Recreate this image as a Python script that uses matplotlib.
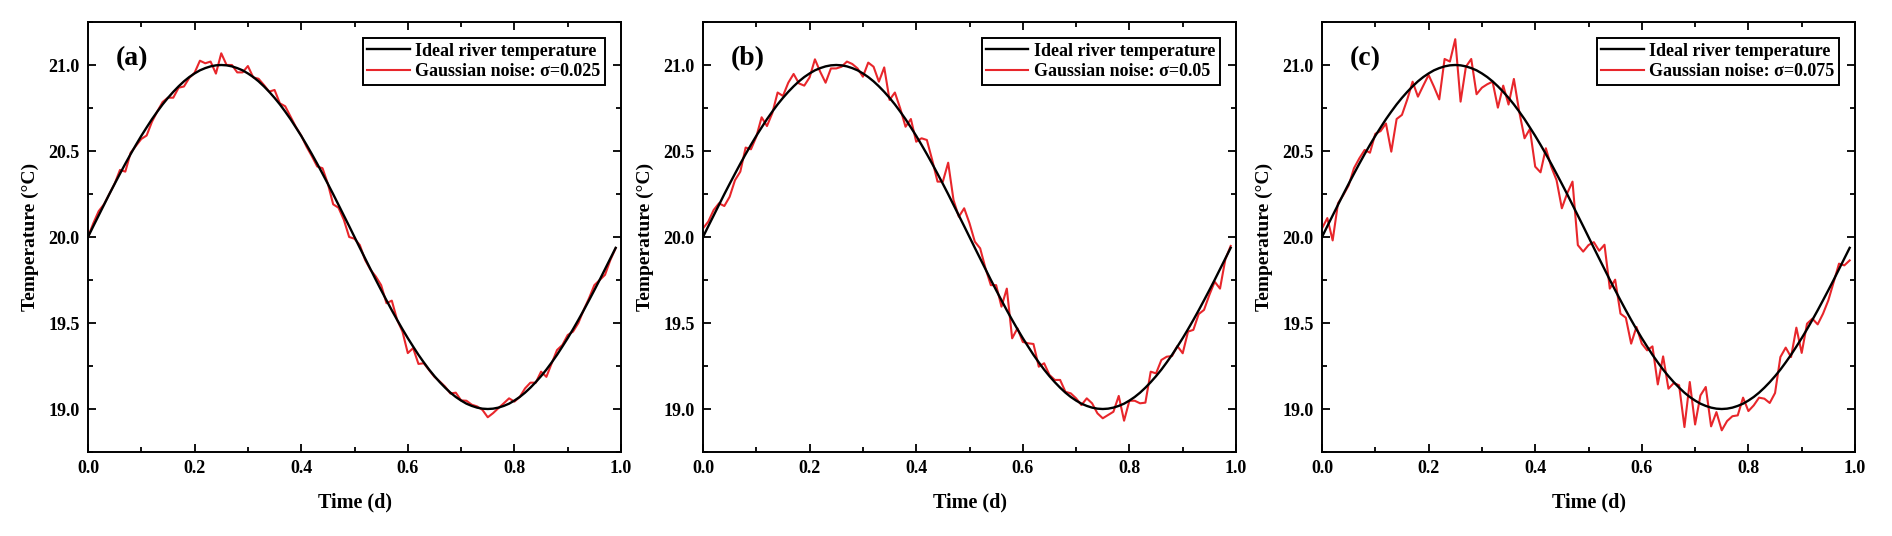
import numpy as np
import matplotlib
matplotlib.use("Agg")
import matplotlib.pyplot as plt
from matplotlib.ticker import MultipleLocator

# time axis (d)
time_d = [round(k * 0.01, 2) for k in range(100)]

# ideal river temperature (°C)
ideal = [20.000, 20.063, 20.125, 20.187, 20.249, 20.309, 20.368, 20.426, 20.482, 20.536,
         20.588, 20.637, 20.685, 20.729, 20.771, 20.809, 20.844, 20.876, 20.905, 20.930,
         20.951, 20.969, 20.982, 20.992, 20.998, 21.000, 20.998, 20.992, 20.982, 20.969,
         20.951, 20.930, 20.905, 20.876, 20.844, 20.809, 20.771, 20.729, 20.685, 20.637,
         20.588, 20.536, 20.482, 20.426, 20.368, 20.309, 20.249, 20.187, 20.125, 20.063,
         20.000, 19.937, 19.875, 19.813, 19.751, 19.691, 19.632, 19.574, 19.518, 19.464,
         19.412, 19.363, 19.315, 19.271, 19.229, 19.191, 19.156, 19.124, 19.095, 19.070,
         19.049, 19.031, 19.018, 19.008, 19.002, 19.000, 19.002, 19.008, 19.018, 19.031,
         19.049, 19.070, 19.095, 19.124, 19.156, 19.191, 19.229, 19.271, 19.315, 19.363,
         19.412, 19.464, 19.518, 19.574, 19.632, 19.691, 19.751, 19.813, 19.875, 19.937]

# noisy series (°C)
noisy_a = [20.000, 20.080, 20.150, 20.190, 20.250, 20.310, 20.390, 20.380, 20.490, 20.530,
           20.570, 20.590, 20.670, 20.730, 20.785, 20.810, 20.810, 20.868, 20.875, 20.925,
           20.955, 21.025, 21.010, 21.020, 20.950, 21.068, 21.000, 21.000, 20.957, 20.957,
           20.994, 20.928, 20.920, 20.884, 20.845, 20.855, 20.777, 20.760, 20.700, 20.640,
           20.590, 20.525, 20.470, 20.410, 20.400, 20.310, 20.190, 20.170, 20.100, 20.000,
           19.990, 19.953, 19.866, 19.810, 19.770, 19.720, 19.615, 19.630, 19.518, 19.450,
           19.325, 19.354, 19.262, 19.266, 19.226, 19.187, 19.160, 19.130, 19.090, 19.095,
           19.050, 19.048, 19.025, 19.015, 18.995, 18.952, 18.976, 19.005, 19.033, 19.062,
           19.043, 19.070, 19.120, 19.153, 19.153, 19.217, 19.187, 19.266, 19.343, 19.372,
           19.430, 19.450, 19.500, 19.576, 19.644, 19.720, 19.750, 19.780, 19.866, 19.935]

noisy_b = [20.050, 20.090, 20.157, 20.196, 20.180, 20.234, 20.330, 20.380, 20.520, 20.510,
           20.583, 20.696, 20.645, 20.720, 20.840, 20.820, 20.897, 20.948, 20.893, 20.880,
           20.928, 21.033, 20.960, 20.897, 20.980, 20.980, 20.990, 21.020, 21.006, 20.980,
           20.932, 21.014, 20.990, 20.903, 20.986, 20.797, 20.840, 20.748, 20.641, 20.686,
           20.554, 20.574, 20.564, 20.448, 20.322, 20.322, 20.432, 20.215, 20.118, 20.167,
           20.080, 19.973, 19.934, 19.818, 19.720, 19.720, 19.595, 19.700, 19.411, 19.469,
           19.390, 19.382, 19.378, 19.246, 19.266, 19.198, 19.169, 19.169, 19.100, 19.091,
           19.062, 19.023, 19.062, 19.033, 18.975, 18.946, 18.965, 18.984, 19.076, 18.932,
           19.048, 19.048, 19.033, 19.037, 19.217, 19.207, 19.285, 19.304, 19.308, 19.366,
           19.324, 19.450, 19.460, 19.552, 19.576, 19.663, 19.740, 19.700, 19.870, 19.948]

noisy_c = [20.050, 20.110, 19.980, 20.196, 20.244, 20.300, 20.400, 20.457, 20.506, 20.490,
           20.600, 20.616, 20.660, 20.496, 20.686, 20.710, 20.800, 20.903, 20.816, 20.880,
           20.942, 20.874, 20.800, 21.035, 21.020, 21.150, 20.787, 20.990, 21.035, 20.830,
           20.868, 20.888, 20.903, 20.752, 20.880, 20.770, 20.919, 20.729, 20.574, 20.628,
           20.409, 20.376, 20.516, 20.409, 20.331, 20.167, 20.254, 20.322, 19.953, 19.915,
           19.953, 19.970, 19.920, 19.955, 19.700, 19.752, 19.554, 19.531, 19.380, 19.477,
           19.380, 19.341, 19.364, 19.143, 19.306, 19.118, 19.151, 19.138, 18.895, 19.157,
           18.910, 19.079, 19.128, 18.899, 18.982, 18.876, 18.930, 18.958, 18.963, 19.066,
           18.988, 19.021, 19.066, 19.060, 19.035, 19.093, 19.302, 19.357, 19.302, 19.473,
           19.326, 19.496, 19.525, 19.492, 19.554, 19.632, 19.738, 19.845, 19.835, 19.864]

panel_tags = ["(a)", "(b)", "(c)"]
sigmas = ["0.025", "0.05", "0.075"]
noisy_all = [noisy_a, noisy_b, noisy_c]

x_ticks = [0.0, 0.2, 0.4, 0.6, 0.8, 1.0]
y_ticks = [19.0, 19.5, 20.0, 20.5, 21.0]

plt.rcParams['font.family'] = ['Liberation Serif', 'DejaVu Serif']
plt.rcParams['font.weight'] = 'bold'
plt.rcParams['axes.labelweight'] = 'bold'

W, H = 1892, 536
fig = plt.figure(figsize=(W / 100, H / 100), dpi=100)

ax_w = 533 / W
ax_h = 430 / H
ax_bottom = 1 - 452 / H
lefts = [88 / W, 703 / W, 1322 / W]

red = '#e8262b'

for i in range(3):
    ax = fig.add_axes([lefts[i], ax_bottom, ax_w, ax_h])
    ax.plot(time_d, ideal, color='black', lw=1.7, label='Ideal river temperature', zorder=3)
    ax.plot(time_d, noisy_all[i], color=red, lw=1.5,
            label='Gaussian noise: σ=' + sigmas[i], zorder=2)
    ax.set_xlim(0, 1.0)
    ax.set_ylim(18.75, 21.25)
    ax.set_xticks(x_ticks)
    ax.set_yticks(y_ticks)
    ax.xaxis.set_minor_locator(MultipleLocator(0.1))
    ax.yaxis.set_minor_locator(MultipleLocator(0.25))
    ax.tick_params(which='both', direction='in', top=True, right=True, width=1.3)
    ax.tick_params(which='major', length=6, labelsize=13, pad=6)
    ax.tick_params(which='minor', length=3.5)
    ax.set_xticklabels([f"{v:.1f}" for v in x_ticks])
    ax.set_yticklabels([f"{v:.1f}" for v in y_ticks])
    for s in ax.spines.values():
        s.set_linewidth(1.4)
    ax.set_xlabel('Time (d)', fontsize=14.5, fontweight='bold', labelpad=11)
    ax.set_ylabel('Temperature (°C)', fontsize=14, fontweight='bold', labelpad=7)
    ax.text(0.052, 0.915, panel_tags[i], transform=ax.transAxes, fontsize=20,
            fontweight='bold', va='center', ha='left')
    leg = ax.legend(loc='upper right', frameon=True, fancybox=False,
                    edgecolor='black', framealpha=1, handlelength=2.35,
                    handletextpad=0.3, borderpad=0.25, labelspacing=0.2,
                    borderaxespad=0.9, prop={'weight': 'bold', 'size': 13})
    leg.get_frame().set_linewidth(1.4)

fig.savefig('out.png', dpi=100)
